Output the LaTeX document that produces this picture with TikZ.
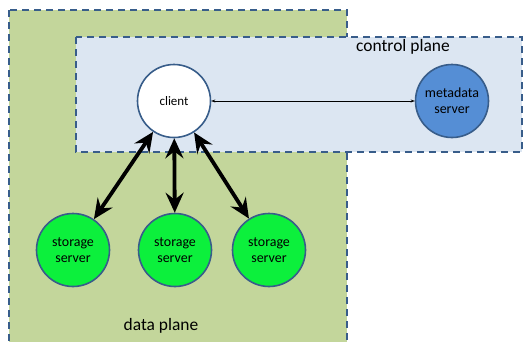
\documentclass[tikz,border=0pt]{standalone}
\usepackage{fontspec}
\setmainfont{Carlito}
\usepackage{tikz}
\usetikzlibrary{arrows.meta,positioning,calc}
\definecolor{dataplane}{RGB}{195,214,155}
\definecolor{ctrlplane}{RGB}{220,230,242}
\definecolor{planeedge}{RGB}{56,93,138}
\definecolor{storefill}{RGB}{12,240,60}
\definecolor{metafill}{RGB}{85,142,213}
\tikzset{
  plane/.style={draw=planeedge,line width=1.6bp,dash pattern=on 7bp off 5bp},
  srv/.style={circle,draw=planeedge,line width=1.6bp,minimum size=73bp,inner sep=0pt,align=center,font=\fontsize{14}{16}\selectfont},
  bigarrow/.style={line width=3.8bp,{Stealth[length=20bp,width=18bp,inset=7bp]}-{Stealth[length=20bp,width=18bp,inset=7bp]}},
  thinarrow/.style={line width=0.6bp,{Stealth[length=4bp,width=3bp]}-{Stealth[length=4bp,width=3bp]}}
}
\begin{document}
\begin{tikzpicture}[x=1bp,y=-1bp]
        \useasboundingbox (0,0) rectangle (524,341);
        \begin{scope}
        \clip (0,0) rectangle (524,341);
        \draw[plane,fill=dataplane] (9,10) rectangle (347,360);
        \draw[plane,fill=ctrlplane] (76,37) rectangle (522,152);
        \end{scope}

        \node (ctrl) at (403,47) {\fontsize{17.5}{20}\selectfont control plane};
        \node (data) at (161,326) {\fontsize{17.5}{20}\selectfont data plane};

        \node[srv,fill=white,font=\fontsize{13}{15}\selectfont] (client) at (174,101) {client};
        \node[srv,fill=metafill] (meta) at (452,101) {metadata\\server};
        \node[srv,fill=storefill] (s1) at (73,250) {storage\\server};
        \node[srv,fill=storefill] (s2) at (175,250) {storage\\server};
        \node[srv,fill=storefill] (s3) at (269,250) {storage\\server};

        \draw[thinarrow] (client) -- (meta);
        \draw[bigarrow] (client) -- (s1);
        \draw[bigarrow] (client) -- (s2);
        \draw[bigarrow] (client) -- (s3);
\end{tikzpicture}
\end{document}
